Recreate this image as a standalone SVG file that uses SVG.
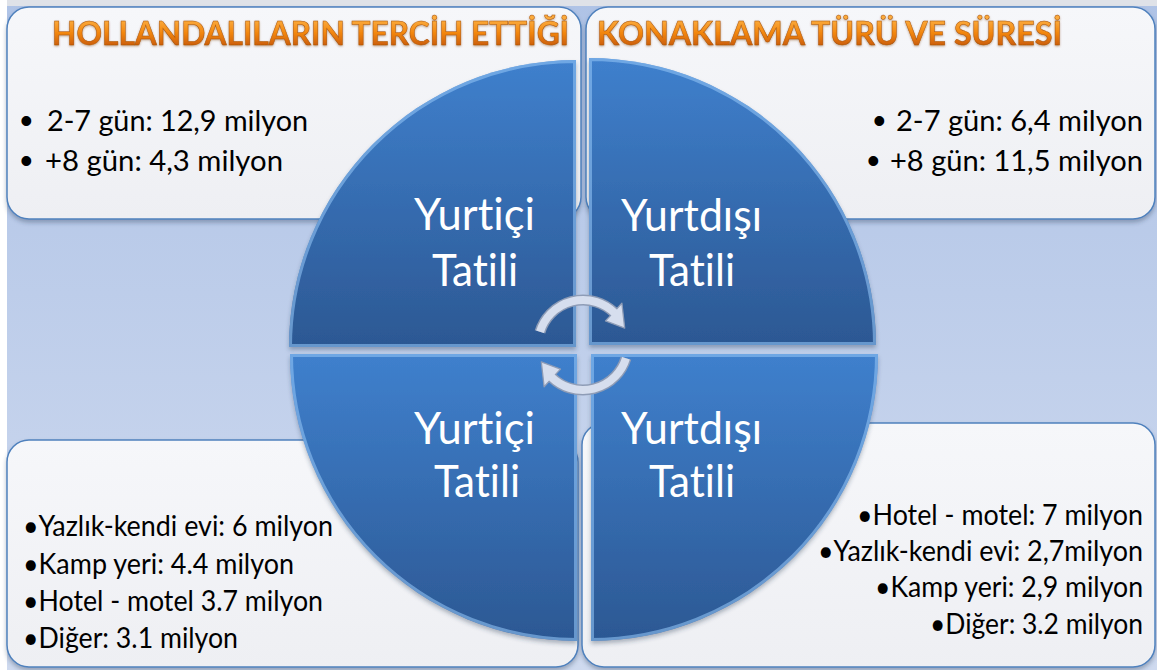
<svg xmlns="http://www.w3.org/2000/svg" width="1157" height="670" viewBox="0 0 1157 670">
<defs>
  <linearGradient id="bg" x1="0" y1="0" x2="0" y2="1">
    <stop offset="0" stop-color="#afc3e6"/>
    <stop offset="1" stop-color="#cfdaef"/>
  </linearGradient>
  <linearGradient id="boxg" x1="0" y1="0" x2="0" y2="1">
    <stop offset="0" stop-color="#f6f7fa"/>
    <stop offset="1" stop-color="#eeeff3"/>
  </linearGradient>
  <linearGradient id="qg" x1="0" y1="0" x2="0" y2="1">
    <stop offset="0" stop-color="#3f80cd"/>
    <stop offset="1" stop-color="#2c5893"/>
  </linearGradient>
  <linearGradient id="tg" gradientUnits="userSpaceOnUse" x1="0" y1="20" x2="0" y2="46">
    <stop offset="0" stop-color="#fbab3c"/>
    <stop offset="0.5" stop-color="#f2860f"/>
    <stop offset="1" stop-color="#c95c05"/>
  </linearGradient>
  <filter id="sh" x="-5%" y="-5%" width="110%" height="115%">
    <feDropShadow dx="0" dy="3" stdDeviation="2" flood-color="#2b3d57" flood-opacity="0.35"/>
  </filter>
  <filter id="tsh" x="-5%" y="-20%" width="110%" height="140%">
    <feDropShadow dx="0" dy="1" stdDeviation="1" flood-color="#7a3a00" flood-opacity="0.45"/>
  </filter>
  <clipPath id="cTL"><path d="M576,347 L289,347 A287,287 0 0 1 576,60 Z"/></clipPath>
  <clipPath id="cTR"><path d="M589,345 L589,58 A287,287 0 0 1 876,345 Z"/></clipPath>
  <clipPath id="cBL"><path d="M577,354 L577,641 A287,287 0 0 1 290,354 Z"/></clipPath>
  <clipPath id="cBR"><path d="M591,354 L878,354 A287,287 0 0 1 591,641 Z"/></clipPath>
  <style>
    text { font-variant-ligatures: none; font-feature-settings: "liga" 0, "clig" 0; }
    .box { fill: url(#boxg); stroke: #4f81bd; stroke-width: 1.5; filter: url(#sh); }
    .quad { fill: url(#qg); filter: url(#sh); }
    .hl { fill: none; stroke: #8fc2f4; stroke-width: 6; opacity: 0.6; }
    .title { font-family: "Lato", "Liberation Sans", sans-serif; font-weight: bold; font-size: 33px; fill: url(#tg); stroke: #a9520a; stroke-width: 0.5; filter: url(#tsh); }
    .body { font-family: "Lato", "Liberation Sans", sans-serif; font-size: 28px; fill: #000; }
    .bul { font-family: "Liberation Sans", sans-serif; font-size: 36px; fill: #000; }
    .lbl { font-family: "Lato", "Liberation Sans", sans-serif; font-size: 45px; fill: #ffffff; }
    .arcO { fill: none; stroke: #8e9cb6; stroke-width: 11; }
    .arcI { fill: none; stroke: #d6deee; stroke-width: 8; }
    .head { fill: #d6deee; stroke: #8e9cb6; stroke-width: 1.3; stroke-linejoin: round; }
  </style>
</defs>

<rect x="0" y="0" width="1157" height="670" fill="#ffffff"/>
<rect x="7" y="0" width="1150" height="670" fill="url(#bg)"/>
<rect x="7" y="0" width="1150" height="6" fill="#dfe2e8"/>

<g id="box-top-left">
  <rect class="box" x="7" y="7" width="574" height="212" rx="22"/>
  <text class="title" x="52" y="45" textLength="517" lengthAdjust="spacingAndGlyphs">HOLLANDALILARIN TERCİH ETTİĞİ</text>
  <text class="bul" x="20" y="133">•</text>
  <text class="body" x="47" y="131" textLength="261" lengthAdjust="spacingAndGlyphs">2-7 gün: 12,9 milyon</text>
  <text class="bul" x="20" y="173">•</text>
  <text class="body" x="45" y="171" textLength="238" lengthAdjust="spacingAndGlyphs">+8 gün: 4,3 milyon</text>
</g>

<g id="box-top-right">
  <rect class="box" x="586" y="7" width="569" height="212" rx="22"/>
  <text class="title" x="597" y="45" textLength="465" lengthAdjust="spacingAndGlyphs">KONAKLAMA TÜRÜ VE SÜRESİ</text>
  <text class="bul" x="873" y="133">•</text>
  <text class="body" x="896" y="131" textLength="247" lengthAdjust="spacingAndGlyphs">2-7 gün: 6,4 milyon</text>
  <text class="bul" x="867" y="173">•</text>
  <text class="body" x="890" y="171" textLength="253" lengthAdjust="spacingAndGlyphs">+8 gün: 11,5 milyon</text>
</g>

<g id="box-bottom-left">
  <rect class="box" x="7" y="440" width="571" height="227" rx="22"/>
  <text class="body" x="23" y="536" textLength="310" lengthAdjust="spacingAndGlyphs">•Yazlık-kendi evi: 6 milyon</text>
  <text class="body" x="23" y="574" textLength="271" lengthAdjust="spacingAndGlyphs">•Kamp yeri: 4.4 milyon</text>
  <text class="body" x="23" y="611" textLength="300" lengthAdjust="spacingAndGlyphs">•Hotel - motel 3.7 milyon</text>
  <text class="body" x="23" y="648" textLength="215" lengthAdjust="spacingAndGlyphs">•Diğer: 3.1 milyon</text>
</g>

<g id="box-bottom-right">
  <rect class="box" x="582" y="423" width="573" height="244" rx="22"/>
  <text class="body" x="857" y="525" textLength="286" lengthAdjust="spacingAndGlyphs">•Hotel - motel: 7 milyon</text>
  <text class="body" x="818" y="561" textLength="325" lengthAdjust="spacingAndGlyphs">•Yazlık-kendi evi: 2,7milyon</text>
  <text class="body" x="875" y="597" textLength="268" lengthAdjust="spacingAndGlyphs">•Kamp yeri: 2,9 milyon</text>
  <text class="body" x="930" y="634" textLength="213" lengthAdjust="spacingAndGlyphs">•Diğer: 3.2 milyon</text>
</g>

<g id="quad-top-left">
  <path class="quad" d="M576,347 L289,347 A287,287 0 0 1 576,60 Z"/>
  <path class="hl" clip-path="url(#cTL)" d="M576,347 L289,347 A287,287 0 0 1 576,60 Z"/>
  <text class="lbl" x="414" y="230" textLength="121" lengthAdjust="spacingAndGlyphs">Yurtiçi</text>
  <text class="lbl" x="432" y="286" textLength="86" lengthAdjust="spacingAndGlyphs">Tatili</text>
</g>

<g id="quad-top-right">
  <path class="quad" d="M589,345 L589,58 A287,287 0 0 1 876,345 Z"/>
  <path class="hl" clip-path="url(#cTR)" d="M589,345 L589,58 A287,287 0 0 1 876,345 Z"/>
  <text class="lbl" x="621" y="231" textLength="141" lengthAdjust="spacingAndGlyphs">Yurtdışı</text>
  <text class="lbl" x="649" y="286" textLength="86" lengthAdjust="spacingAndGlyphs">Tatili</text>
</g>

<g id="quad-bottom-left">
  <path class="quad" d="M577,354 L577,641 A287,287 0 0 1 290,354 Z"/>
  <path class="hl" clip-path="url(#cBL)" d="M577,354 L577,641 A287,287 0 0 1 290,354 Z"/>
  <text class="lbl" x="414" y="444" textLength="121" lengthAdjust="spacingAndGlyphs">Yurtiçi</text>
  <text class="lbl" x="434" y="497" textLength="86" lengthAdjust="spacingAndGlyphs">Tatili</text>
</g>

<g id="quad-bottom-right">
  <path class="quad" d="M591,354 L878,354 A287,287 0 0 1 591,641 Z"/>
  <path class="hl" clip-path="url(#cBR)" d="M591,354 L878,354 A287,287 0 0 1 591,641 Z"/>
  <text class="lbl" x="621" y="444" textLength="141" lengthAdjust="spacingAndGlyphs">Yurtdışı</text>
  <text class="lbl" x="649" y="497" textLength="86" lengthAdjust="spacingAndGlyphs">Tatili</text>
</g>

<g id="connectors">
  <path class="arcO" d="M540.0,331.8 A45,45 0 0 1 613.7,312.1"/>
  <polygon class="head" points="605.5,320.9 621.9,303.3 624.7,328.1"/>
  <path class="arcI" d="M540.0,331.8 A45,45 0 0 1 614.8,313.2"/>
  <path class="arcO" d="M626.0,358.2 A45,45 0 0 1 552.3,377.9"/>
  <polygon class="head" points="560.5,369.1 544.1,386.7 541.3,361.9"/>
  <path class="arcI" d="M626.0,358.2 A45,45 0 0 1 551.2,376.8"/>
</g>
</svg>
